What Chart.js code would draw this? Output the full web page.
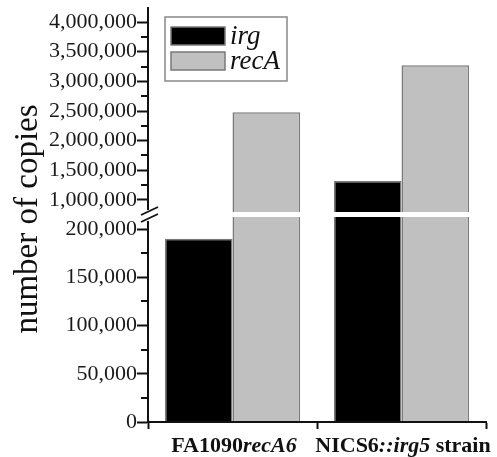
<!DOCTYPE html>
<html><head><meta charset="utf-8">
<script src="https://cdn.jsdelivr.net/npm/chart.js@4.4.1/dist/chart.umd.min.js"></script>
<style>html,body{margin:0;padding:0;background:#fff;}</style>
</head><body>
<canvas id="c" width="497" height="457"></canvas>
<script>
// ---- data ----
const categories = ['FA1090recA6', 'NICS6::irg5 strain'];
const categoryLabelParts = [
  [['FA1090', 'bold'], ['recA6', 'italic bold']],
  [['NICS6', 'bold'], ['::irg5', 'italic bold'], [' strain', 'bold']]
];
const seriesNames = ['irg', 'recA'];
const irgValues = [190000, 1320000];
const recAValues = [2480000, 3270000];
const upperTicks = [1000000, 1500000, 2000000, 2500000, 3000000, 3500000, 4000000];
const upperMinorTicks = [1250000, 1750000, 2250000, 2750000, 3250000, 3750000];
const lowerTicks = [0, 50000, 100000, 150000, 200000];
const lowerMinorTicks = [25000, 75000, 125000, 175000];
const upperRange = [789300, 4236000];
const lowerRange = [0, 217100];
const yTitle = 'number of copies';

const FONT = '"Liberation Serif", "Times New Roman", serif';
const irgStyle = {backgroundColor: '#000000', borderColor: '#7a7a7a', borderWidth: 1.5};
const recAStyle = {backgroundColor: '#c0c0c0', borderColor: '#7a7a7a', borderWidth: 1.5};

const clipPlugin = {
  id: 'clipPerScale',
  beforeDatasetDraw(chart, args) {
    const ys = chart.scales[args.meta.yAxisID];
    const ca = chart.chartArea;
    chart.ctx.save();
    chart.ctx.beginPath();
    chart.ctx.rect(ca.left, ys.top, ca.right - ca.left, ys.bottom - ys.top);
    chart.ctx.clip();
  },
  afterDatasetDraw(chart) { chart.ctx.restore(); }
};

const decoPlugin = {
  id: 'deco',
  afterDraw(chart) {
    const {ctx, chartArea: ca, scales} = chart;
    const hi = scales.yHigh, lo = scales.yLow, x = scales.x;
    const seam = lo.top;
    const L = ca.left;
    ctx.save();
    // minor ticks
    ctx.strokeStyle = '#111'; ctx.lineWidth = 2;
    const minor = (scale, vals) => vals.forEach(v => {
      const y = Math.round(scale.getPixelForValue(v));
      ctx.beginPath(); ctx.moveTo(L - 7, y); ctx.lineTo(L, y); ctx.stroke();
    });
    minor(hi, upperMinorTicks);
    minor(lo, lowerMinorTicks);
    // gap band
    ctx.fillStyle = '#ffffff';
    ctx.fillRect(L + 3, seam - 0.5, ca.right - L, 5);
    ctx.fillRect(L - 4, seam - 2.5, 8, 11);
    // break slashes
    ctx.strokeStyle = '#111'; ctx.lineWidth = 1.8;
    [2.5, 9.5].forEach(d => {
      ctx.beginPath(); ctx.moveTo(L - 7, seam + d); ctx.lineTo(L + 10, seam + d - 8); ctx.stroke();
    });
    // y title
    ctx.save();
    ctx.translate(28, 219);
    ctx.rotate(-Math.PI / 2);
    ctx.fillStyle = '#111';
    ctx.font = '33px ' + FONT;
    ctx.textAlign = 'center'; ctx.textBaseline = 'middle';
    ctx.fillText(yTitle, 0, 0);
    ctx.restore();
    // x labels with mixed styles
    ctx.fillStyle = '#111'; ctx.textBaseline = 'alphabetic'; ctx.textAlign = 'left';
    categoryLabelParts.forEach((parts, i) => {
      let total = 0;
      parts.forEach(p => { ctx.font = p[1] + ' 22px ' + FONT; total += ctx.measureText(p[0]).width; });
      let cx = x.getPixelForValue(i) + 1.5 - total / 2;
      parts.forEach(p => {
        ctx.font = p[1] + ' 22px ' + FONT;
        ctx.fillText(p[0], cx, ca.bottom + 30);
        cx += ctx.measureText(p[0]).width;
      });
    });
    // legend
    const bx = L + 17, by = ca.top + 9;
    ctx.strokeStyle = '#888'; ctx.lineWidth = 1.5;
    ctx.fillStyle = '#fff';
    ctx.fillRect(bx, by, 122, 64);
    ctx.strokeRect(bx, by, 122, 64);
    const styles = [irgStyle, recAStyle];
    seriesNames.forEach((name, i) => {
      const sy = by + 10 + i * 25;
      ctx.fillStyle = styles[i].backgroundColor;
      ctx.fillRect(bx + 6, sy, 54, 18);
      ctx.strokeStyle = styles[i].borderColor; ctx.lineWidth = 1.5;
      ctx.strokeRect(bx + 6, sy, 54, 18);
      ctx.fillStyle = '#111';
      ctx.font = 'italic 27px ' + FONT;
      ctx.fillText(name, bx + 65, sy + 17);
    });
    ctx.restore();
  }
};

const yCommon = (ticksArr, range, weight) => ({
  type: 'linear', position: 'left', stack: 'y', stackWeight: weight,
  min: range[0], max: range[1], beginAtZero: false, stacked: false,
  grid: {drawOnChartArea: false, drawTicks: true, tickLength: 11, tickColor: '#111', tickWidth: 2},
  border: {display: true, color: '#111', width: 2},
  ticks: {font: {family: FONT, size: 22}, color: '#1a1a1a', padding: 0, autoSkip: false,
          callback: v => Number(v).toLocaleString('en-US')},
  afterBuildTicks(s) { s.ticks = ticksArr.map(v => ({value: v})); },
  afterFit(s) { s.width = 148; s.paddingTop = 0; s.paddingBottom = 0; }
});

new Chart(document.getElementById('c'), {
  type: 'bar',
  data: {
    labels: categories,
    datasets: [
      Object.assign({label: seriesNames[0], data: irgValues, yAxisID: 'yLow', stack: 'irg'}, irgStyle),
      Object.assign({label: seriesNames[1], data: recAValues, yAxisID: 'yLow', stack: 'recA'}, recAStyle),
      Object.assign({label: seriesNames[0], data: irgValues, yAxisID: 'yHigh', stack: 'irg'}, irgStyle),
      Object.assign({label: seriesNames[1], data: recAValues, yAxisID: 'yHigh', stack: 'recA'}, recAStyle)
    ]
  },
  options: {
    responsive: false, animation: false, devicePixelRatio: 1,
    categoryPercentage: 0.8, barPercentage: 1.0,
    layout: {padding: {top: 8, right: 11, bottom: 0, left: 0}},
    plugins: {legend: {display: false}, tooltip: {enabled: false}},
    scales: {
      x: {
        type: 'category', offset: true,
        grid: {display: true, offset: true, drawOnChartArea: false, drawTicks: true, tickLength: 7, tickColor: '#111', tickWidth: 2},
        border: {display: true, color: '#111', width: 2, z: 1},
        ticks: {display: false},
        afterFit(s) { s.height = 35; s.paddingLeft = 0; s.paddingRight = 0; }
      },
      yLow: yCommon(lowerTicks, lowerRange, 209.5),
      yHigh: yCommon(upperTicks, upperRange, 204.5)
    }
  },
  plugins: [clipPlugin, decoPlugin]
});
</script>
</body></html>
